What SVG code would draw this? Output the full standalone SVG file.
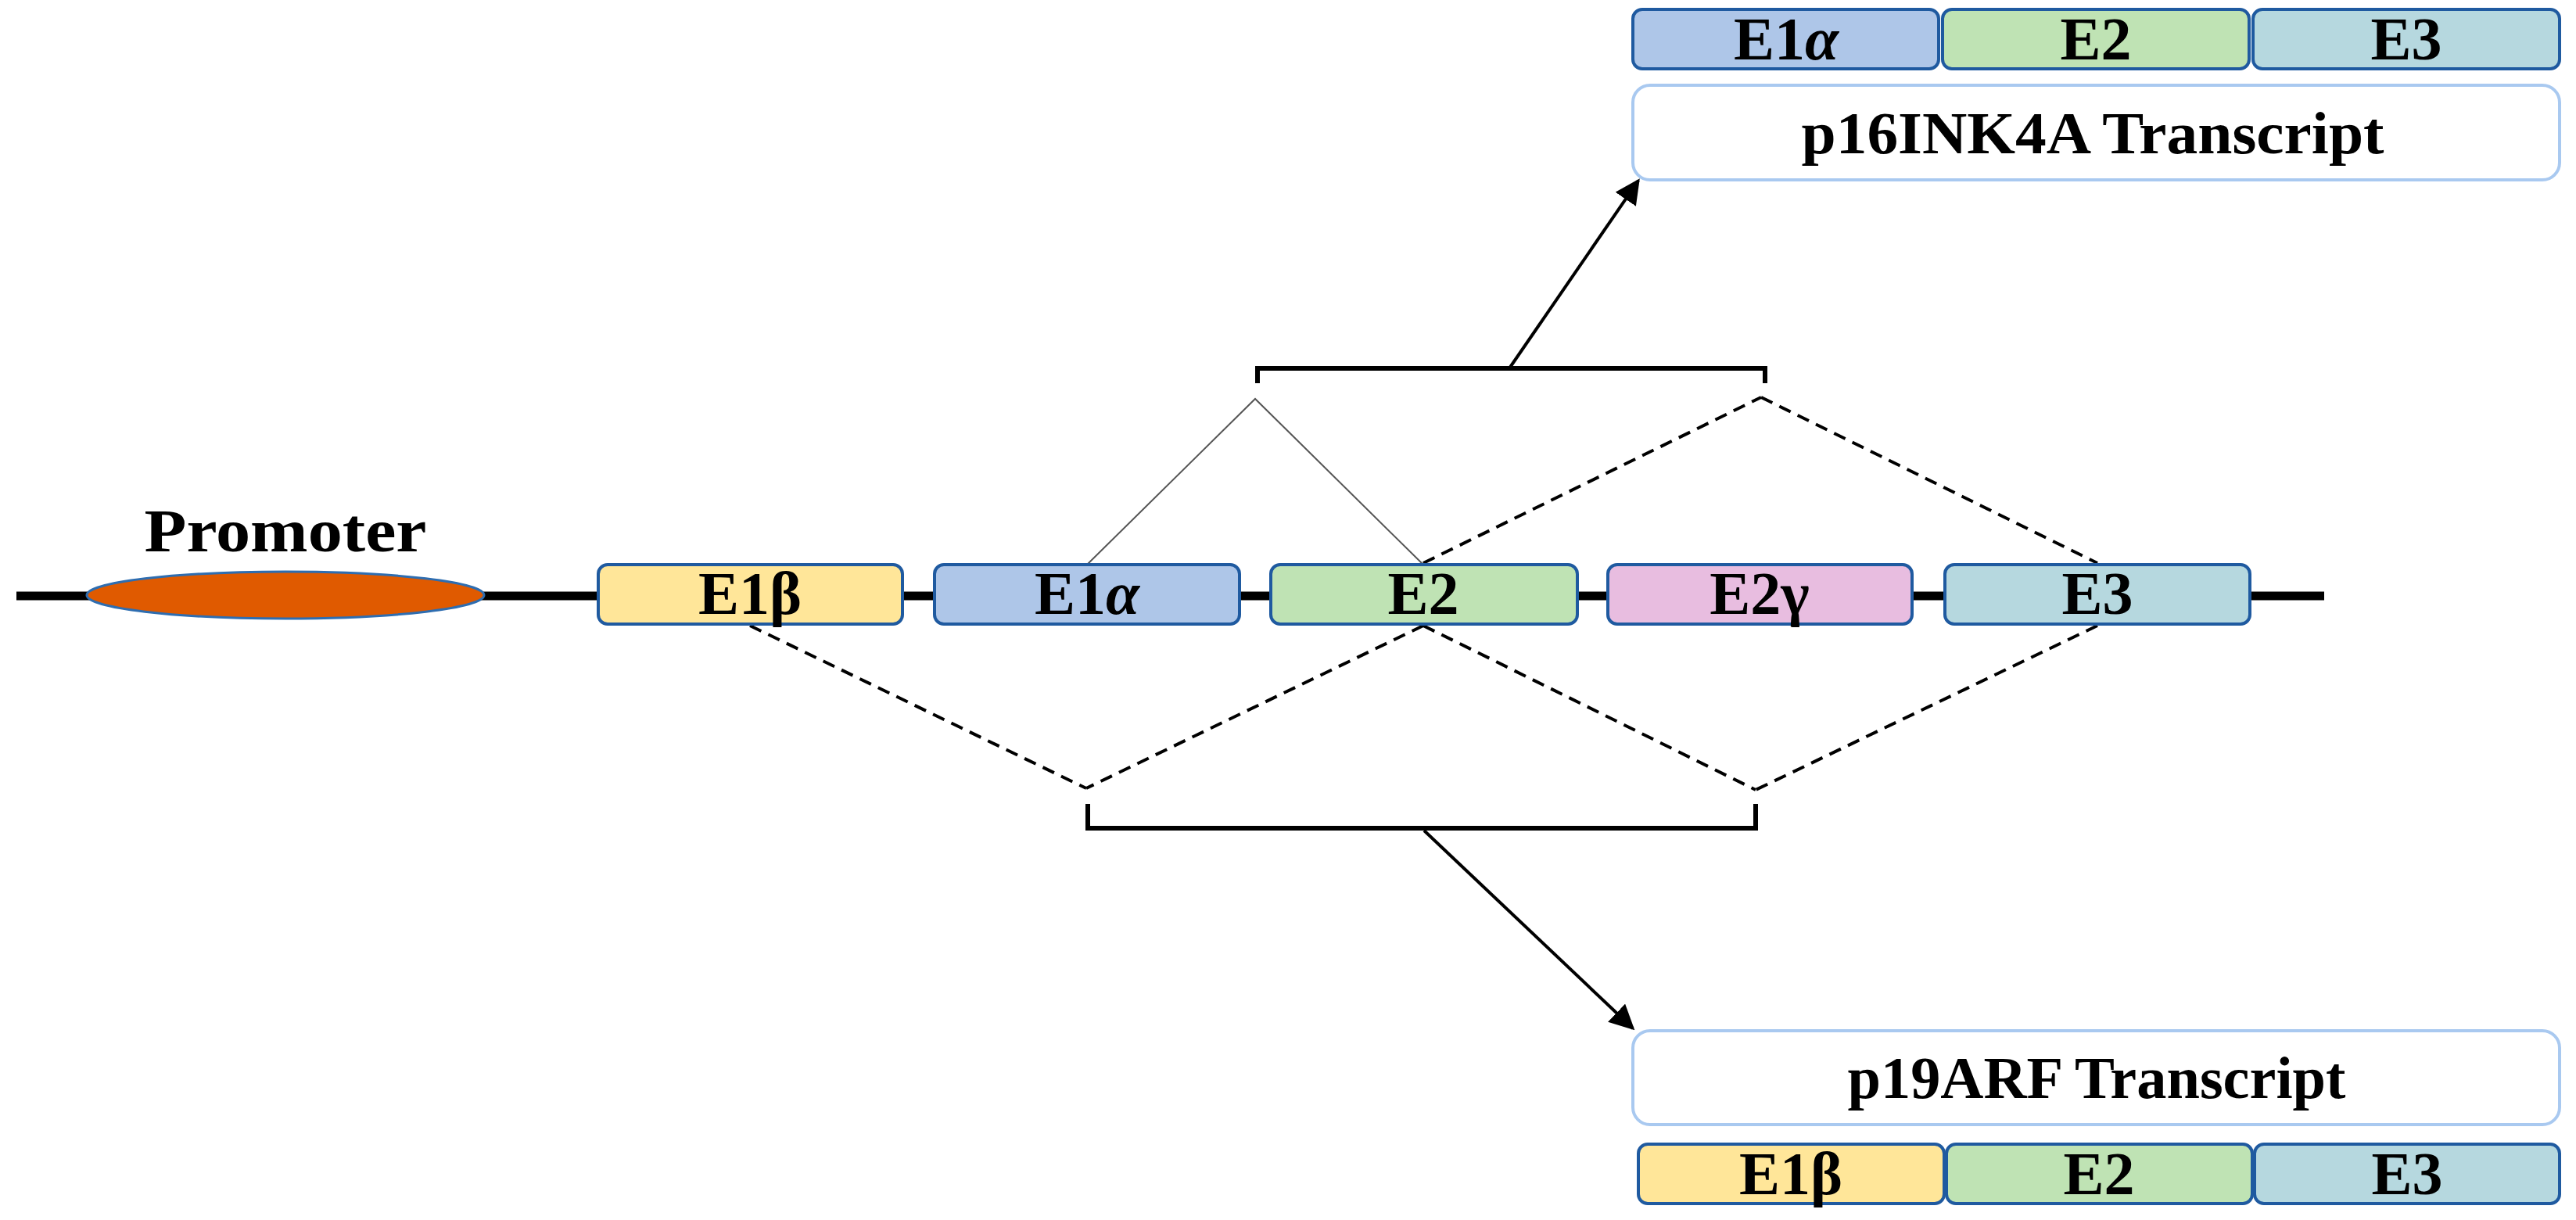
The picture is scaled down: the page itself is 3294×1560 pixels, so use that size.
<svg xmlns="http://www.w3.org/2000/svg" width="3294" height="1560" viewBox="0 0 3294 1560">
<defs>
<style>
.exon{stroke:#1f5aa0;stroke-width:4}
.lbl{font-family:"Liberation Serif","DejaVu Serif",serif;font-weight:bold;font-size:78px;fill:#000;text-anchor:middle}
.tr{fill:#fff;stroke:#a9c9f0;stroke-width:4}
.trl{font-family:"Liberation Serif","DejaVu Serif",serif;font-weight:bold;font-size:76px;fill:#000;text-anchor:middle}
.dash{fill:none;stroke:#000;stroke-width:4;stroke-dasharray:16 10}
.thin{fill:none;stroke:#555;stroke-width:2}
.brk{fill:none;stroke:#000;stroke-width:6}
.arr{fill:none;stroke:#000;stroke-width:4}
.b1{fill:#ffe699}.a1{fill:#aec6e8}.e2{fill:#bfe3b4}.g2{fill:#e8bde0}.e3{fill:#b6d8df}
</style>
<marker id="ah" viewBox="0 0 10 10" refX="9" refY="5" markerWidth="8" markerHeight="8" markerUnits="strokeWidth" orient="auto">
<path d="M0,0 L10,5 L0,10 z" fill="#000"/>
</marker>
</defs>
<rect width="3294" height="1560" fill="#fff"/>

<g id="backbone">
<line x1="21" y1="762" x2="2972" y2="762" stroke="#000" stroke-width="11"/>
</g>

<g id="connectors">
<polyline class="thin" points="1390,722 1605,510 1820,722"/>
<line class="dash" x1="1820" y1="720" x2="2252" y2="508"/>
<line class="dash" x1="2252" y1="508" x2="2682" y2="720"/>
<line class="dash" x1="959" y1="800" x2="1389" y2="1008"/>
<line class="dash" x1="1820" y1="800" x2="1389" y2="1008"/>
<line class="dash" x1="1820" y1="800" x2="2245" y2="1010"/>
<line class="dash" x1="2682" y1="800" x2="2245" y2="1010"/>
<polyline class="brk" points="1608,490 1608,471 2257,471 2257,490"/>
<polyline class="brk" points="1391,1028 1391,1059 2245,1059 2245,1028"/>
<line class="arr" x1="1930" y1="471" x2="2095" y2="231" marker-end="url(#ah)"/>
<line class="arr" x1="1821" y1="1062" x2="2088" y2="1315" marker-end="url(#ah)"/>
</g>

<g id="promoter">
<ellipse cx="365" cy="761" rx="254" ry="30" fill="#e05a00" stroke="#2e6db0" stroke-width="3"/>
<text class="lbl" x="365" y="705" font-size="80" textLength="361" lengthAdjust="spacingAndGlyphs">Promoter</text>
</g>

<g id="exon-E1b">
<rect class="exon b1" x="765" y="722" width="389" height="76" rx="12"/>
<text class="lbl" x="959" y="785">E1β</text>
</g>
<g id="exon-E1a">
<rect class="exon a1" x="1195" y="722" width="390" height="76" rx="12"/>
<text class="lbl" x="1390" y="785">E1<tspan font-style="italic">α</tspan></text>
</g>
<g id="exon-E2">
<rect class="exon e2" x="1625" y="722" width="392" height="76" rx="12"/>
<text class="lbl" x="1820" y="785">E2</text>
</g>
<g id="exon-E2g">
<rect class="exon g2" x="2056" y="722" width="389" height="76" rx="12"/>
<text class="lbl" x="2250" y="785">E2γ</text>
</g>
<g id="exon-E3">
<rect class="exon e3" x="2487" y="722" width="390" height="76" rx="12"/>
<text class="lbl" x="2682" y="785">E3</text>
</g>

<g id="p16-exons">
<rect class="exon a1" x="2088" y="12" width="391" height="76" rx="12"/>
<text class="lbl" x="2284" y="76">E1<tspan font-style="italic">α</tspan></text>
<rect class="exon e2" x="2484" y="12" width="392" height="76" rx="12"/>
<text class="lbl" x="2680" y="76">E2</text>
<rect class="exon e3" x="2881" y="12" width="392" height="76" rx="12"/>
<text class="lbl" x="3077" y="76">E3</text>
</g>
<g id="p16-transcript">
<rect class="tr" x="2088" y="109" width="1185" height="121" rx="22"/>
<text class="trl" x="2676" y="196" textLength="745" lengthAdjust="spacingAndGlyphs">p16INK4A  Transcript</text>
</g>

<g id="p19-transcript">
<rect class="tr" x="2088" y="1318" width="1185" height="120" rx="22"/>
<text class="trl" x="2681" y="1404" textLength="637" lengthAdjust="spacingAndGlyphs">p19ARF Transcript</text>
</g>
<g id="p19-exons">
<rect class="exon b1" x="2095" y="1463" width="391" height="76" rx="12"/>
<text class="lbl" x="2290" y="1527">E1β</text>
<rect class="exon e2" x="2489" y="1463" width="391" height="76" rx="12"/>
<text class="lbl" x="2684" y="1527">E2</text>
<rect class="exon e3" x="2883" y="1463" width="390" height="76" rx="12"/>
<text class="lbl" x="3078" y="1527">E3</text>
</g>
</svg>
